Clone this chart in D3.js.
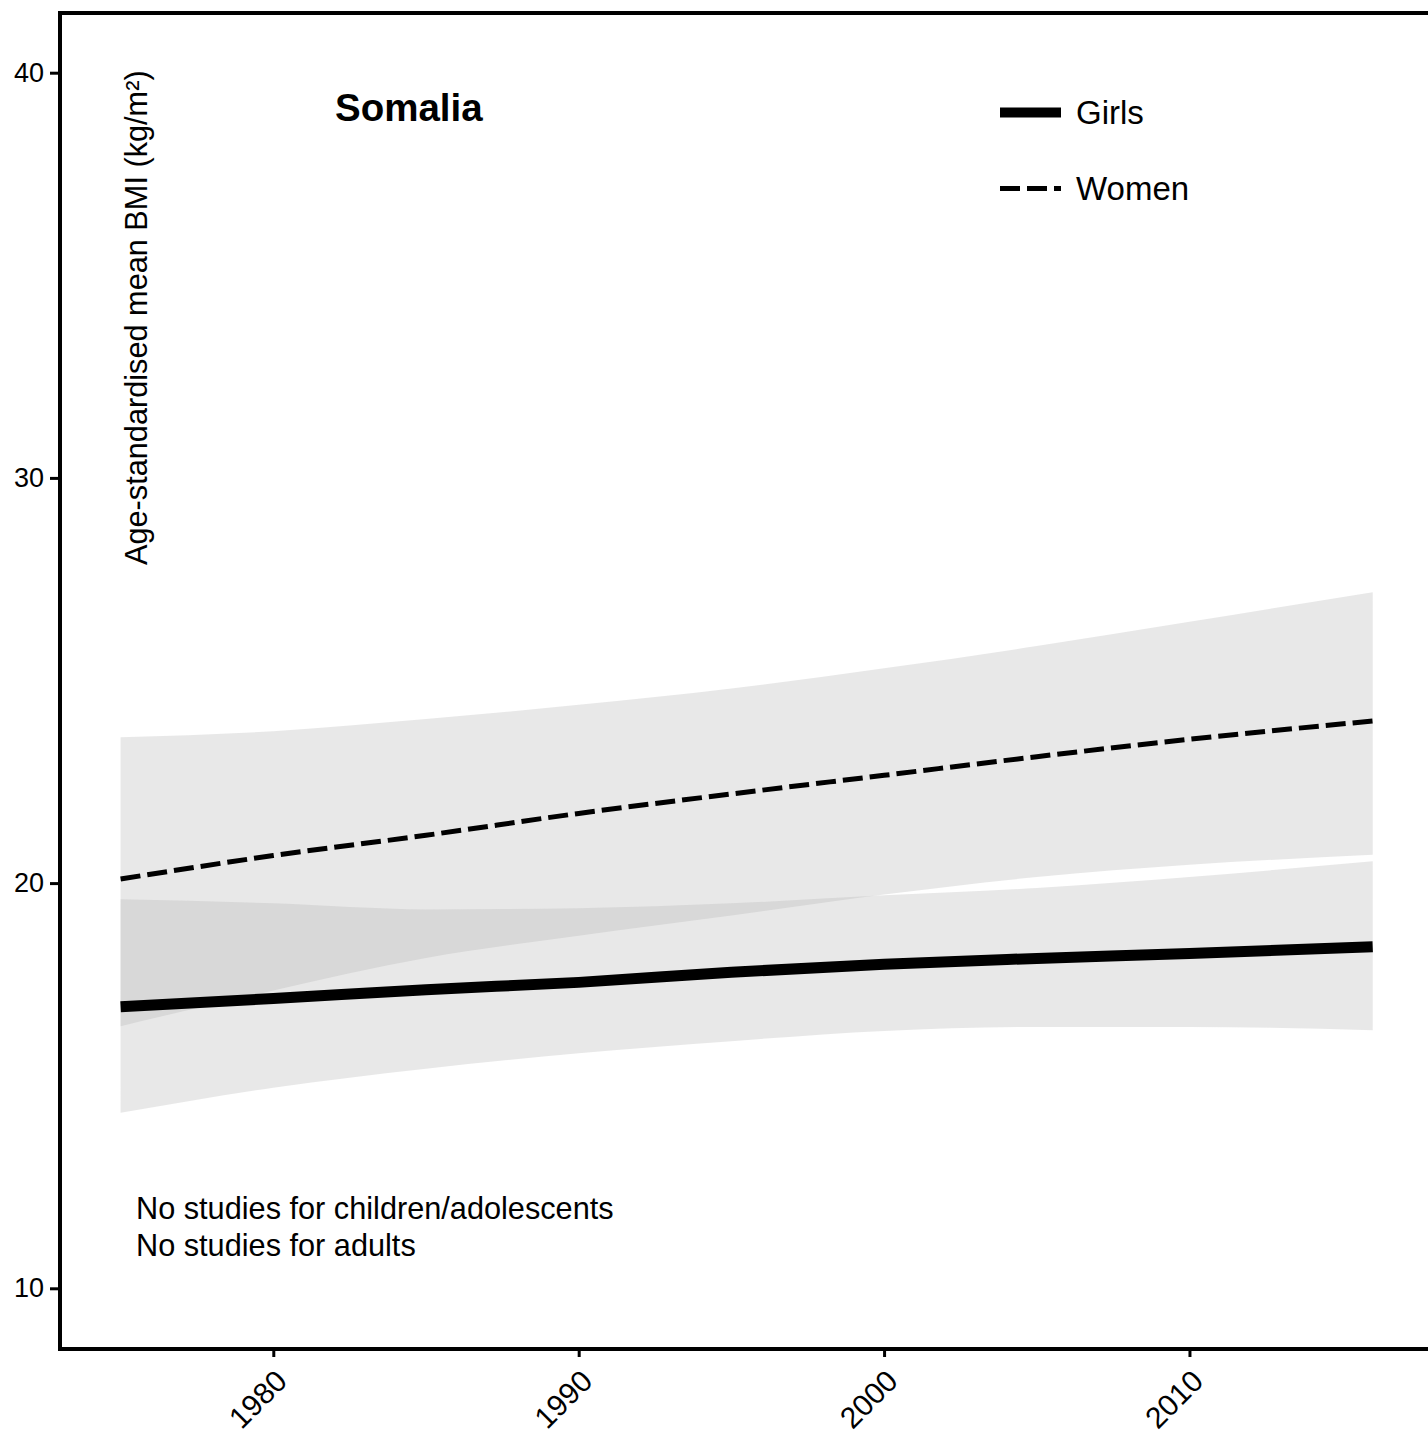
<!DOCTYPE html>
<html>
<head>
<meta charset="utf-8">
<script src="https://cdn.jsdelivr.net/npm/d3@7"></script>
<style>
  html, body { margin: 0; padding: 0; background: #fff; }
  svg { display: block; font-family: "Liberation Sans", Arial, Helvetica, sans-serif; }
</style>
</head>
<body>
<svg id="chart" width="1428" height="1448"></svg>
<script>
// ---- data ----
const years       = [1975, 1980, 1985, 1990, 1995, 2000, 2005, 2010, 2016];
const womenMean   = [20.10, 20.68, 21.18, 21.72, 22.20, 22.66, 23.12, 23.55, 24.00];
const womenUpper  = [23.60, 23.75, 24.05, 24.40, 24.80, 25.30, 25.85, 26.45, 27.18];
const womenLower  = [16.47, 17.35, 18.15, 18.70, 19.20, 19.72, 20.15, 20.45, 20.70];
const girlsMean   = [16.95, 17.15, 17.37, 17.55, 17.80, 18.00, 18.14, 18.26, 18.43];
const girlsUpper  = [19.60, 19.50, 19.35, 19.38, 19.50, 19.70, 19.88, 20.15, 20.54];
const girlsLower  = [14.33, 14.95, 15.42, 15.80, 16.10, 16.35, 16.45, 16.45, 16.37];
const yTicks      = [10, 20, 30, 40];
const xTicks      = [1980, 1990, 2000, 2010];
const countryName = "Somalia";
const legendItems = ["Girls", "Women"];
const notes       = ["No studies for children/adolescents", "No studies for adults"];
const yTitle      = "Age-standardised mean BMI (kg/m\u00B2)";

// ---- layout ----
const svg = d3.select("#chart");
const x = d3.scaleLinear().domain([1975, 2016]).range([120.6, 1372.7]);
const y = d3.scaleLinear().domain([10, 40]).range([1288.3, 72.7]);
const frame = { left: 60, top: 13, bottom: 1349 };

const rows = (mean, lo, hi) => years.map((yr, i) => ({ yr, m: mean[i], lo: lo[i], hi: hi[i] }));
const women = rows(womenMean, womenLower, womenUpper);
const girls = rows(girlsMean, girlsLower, girlsUpper);

const area = d3.area().x(d => x(d.yr)).y0(d => y(d.lo)).y1(d => y(d.hi)).curve(d3.curveMonotoneX);
const line = d3.line().x(d => x(d.yr)).y(d => y(d.m)).curve(d3.curveMonotoneX);

// bands
[women, girls].forEach(s => {
  svg.append("path").datum(s).attr("d", area)
    .attr("fill", "#b3b3b3").attr("fill-opacity", 0.3);
});

// lines
svg.append("path").datum(women).attr("d", line)
  .attr("fill", "none").attr("stroke", "#000").attr("stroke-width", 5)
  .attr("stroke-dasharray", "20,7");
svg.append("path").datum(girls).attr("d", line)
  .attr("fill", "none").attr("stroke", "#000").attr("stroke-width", 11);

// frame (left, top, bottom; right side beyond canvas)
svg.append("rect")
  .attr("x", frame.left).attr("y", frame.top)
  .attr("width", 1440 - frame.left).attr("height", frame.bottom - frame.top)
  .attr("fill", "none").attr("stroke", "#000").attr("stroke-width", 4);

// y axis
const yAxis = svg.append("g").attr("transform", `translate(${frame.left - 2},0)`)
  .call(d3.axisLeft(y).tickValues(yTicks).tickSize(8).tickPadding(6).tickFormat(d3.format("d")));
yAxis.select(".domain").remove();
yAxis.selectAll(".tick line").attr("stroke", "#000").attr("stroke-width", 3);
yAxis.selectAll(".tick text").attr("font-size", 27).attr("fill", "#000")
  .attr("font-family", "Liberation Sans, Arial, sans-serif");

// x axis
const xAxis = svg.append("g").attr("transform", `translate(0,${frame.bottom + 2})`)
  .call(d3.axisBottom(x).tickValues(xTicks).tickSize(6).tickFormat(d3.format("d")));
xAxis.select(".domain").remove();
xAxis.selectAll(".tick line").attr("stroke", "#000").attr("stroke-width", 3);
xAxis.selectAll(".tick text")
  .attr("font-size", 30).attr("fill", "#000")
  .attr("font-family", "Liberation Sans, Arial, sans-serif")
  .attr("text-anchor", "end").attr("dy", null).attr("y", null)
  .attr("transform", "translate(15,32) rotate(-45)");

// y title
svg.append("text")
  .attr("transform", `translate(147,565) rotate(-90)`)
  .attr("font-size", 30.7).attr("fill", "#000")
  .text(yTitle);

// country title
svg.append("text").attr("x", 335).attr("y", 121)
  .attr("font-size", 38.5).attr("font-weight", "bold").attr("fill", "#000")
  .text(countryName);

// legend
const legendY = [112.5, 188.5];
svg.append("line").attr("x1", 1000).attr("x2", 1061).attr("y1", legendY[0]).attr("y2", legendY[0])
  .attr("stroke", "#000").attr("stroke-width", 10);
svg.append("line").attr("x1", 1000).attr("x2", 1061).attr("y1", legendY[1]).attr("y2", legendY[1])
  .attr("stroke", "#000").attr("stroke-width", 5).attr("stroke-dasharray", "20,7");
legendItems.forEach((t, i) => {
  svg.append("text").attr("x", 1076).attr("y", legendY[i] + 11)
    .attr("font-size", 33).attr("fill", "#000").text(t);
});

// notes
notes.forEach((t, i) => {
  svg.append("text").attr("x", 136).attr("y", 1219 + i * 37)
    .attr("font-size", 30.7).attr("fill", "#000").text(t);
});
</script>
</body>
</html>
